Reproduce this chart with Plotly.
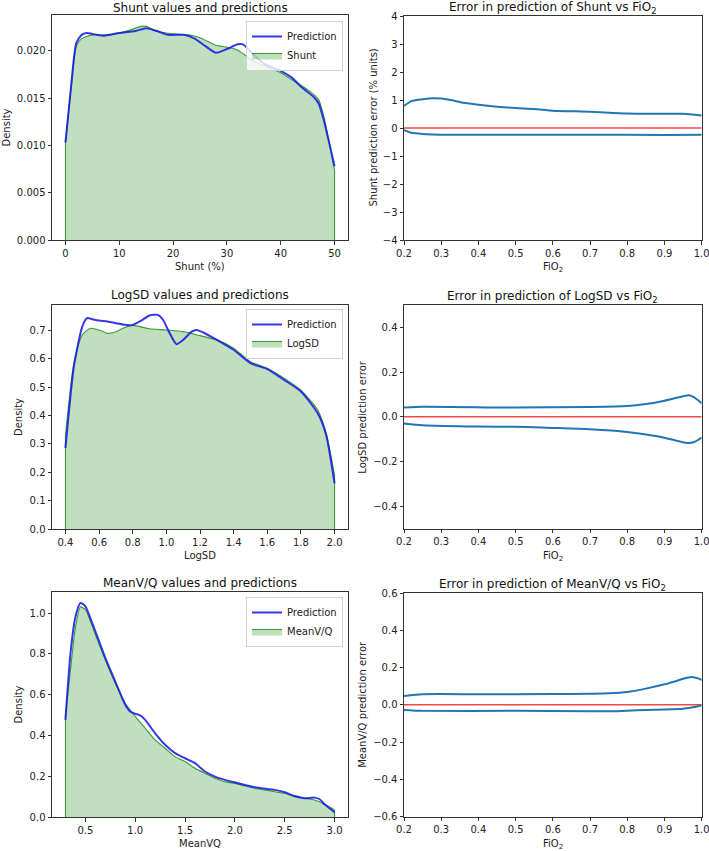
import plotly.graph_objects as go

# ---------------- data ----------------
shunt_x = [0, 1, 2, 3, 5, 8, 10, 12, 14, 15, 17, 20, 23, 25, 28, 30, 32, 35, 38, 40, 43, 45, 47, 48, 49, 50]
shunt_true = [0.0103, 0.0158, 0.0205, 0.0213, 0.0217, 0.0217, 0.0219, 0.0222, 0.0226, 0.0226, 0.0221, 0.0218,
              0.0217, 0.0214, 0.0206, 0.0204, 0.0201, 0.0189, 0.0182, 0.0177, 0.0166, 0.0159, 0.0149, 0.0131,
              0.0103, 0.0074]
shunt_pred_x = [0, 1, 2, 3, 4, 5, 7, 10, 13, 15, 17, 19, 22, 24, 26, 28, 30, 32, 33, 35, 37, 40, 42, 44, 46, 47,
                48, 49, 50]
shunt_pred = [0.0103, 0.0160, 0.0208, 0.0217, 0.0219, 0.0218, 0.0216, 0.0219, 0.0221, 0.0224, 0.0221, 0.0217,
              0.0217, 0.0213, 0.0205, 0.0198, 0.0202, 0.0207, 0.0207, 0.0196, 0.0186, 0.0179, 0.0172, 0.0161,
              0.0152, 0.0145, 0.0127, 0.0103, 0.0078]

shunt_err_up_x = [0.2, 0.22, 0.25, 0.28, 0.3, 0.33, 0.36, 0.4, 0.45, 0.5, 0.55, 0.6, 0.7, 0.8, 0.9, 0.95, 1.0]
shunt_err_up = [0.79, 0.96, 1.03, 1.06, 1.05, 0.99, 0.9, 0.83, 0.76, 0.71, 0.68, 0.62, 0.58, 0.52, 0.51, 0.51, 0.45]
shunt_err_lo_x = [0.2, 0.22, 0.25, 0.3, 0.5, 0.7, 0.9, 1.0]
shunt_err_lo = [-0.08, -0.17, -0.21, -0.24, -0.24, -0.24, -0.25, -0.24]

logsd_x = [0.4, 0.45, 0.5, 0.55, 0.6, 0.65, 0.7, 0.75, 0.8, 0.9, 1.0, 1.1, 1.2, 1.3, 1.4, 1.5, 1.6, 1.7, 1.8,
           1.9, 1.95, 2.0]
logsd_true = [0.33, 0.585, 0.685, 0.708, 0.702, 0.69, 0.696, 0.71, 0.718, 0.706, 0.702, 0.696, 0.682, 0.667,
              0.638, 0.59, 0.567, 0.532, 0.49, 0.42, 0.338, 0.19]
logsd_pred_x = [0.4, 0.45, 0.5, 0.53, 0.56, 0.6, 0.65, 0.7, 0.75, 0.8, 0.85, 0.9, 0.95, 0.98, 1.02, 1.06, 1.1,
                1.15, 1.18, 1.22, 1.3, 1.4, 1.5, 1.6, 1.7, 1.8, 1.9, 1.95, 2.0]
logsd_pred = [0.285, 0.573, 0.714, 0.744, 0.74, 0.735, 0.732, 0.726, 0.72, 0.72, 0.735, 0.753, 0.755, 0.738, 0.69,
              0.652, 0.667, 0.696, 0.702, 0.693, 0.667, 0.632, 0.585, 0.564, 0.526, 0.485, 0.408, 0.332, 0.161]

logsd_err_up_x = [0.2, 0.25, 0.5, 0.7, 0.8, 0.85, 0.9, 0.95, 0.965, 0.98, 1.0]
logsd_err_up = [0.041, 0.045, 0.041, 0.044, 0.048, 0.057, 0.072, 0.092, 0.096, 0.087, 0.06]
logsd_err_lo_x = [0.2, 0.25, 0.4, 0.5, 0.6, 0.7, 0.8, 0.88, 0.92, 0.96, 0.98, 1.0]
logsd_err_lo = [-0.03, -0.038, -0.044, -0.045, -0.05, -0.056, -0.068, -0.087, -0.102, -0.117, -0.113, -0.093]

mvq_x = [0.3, 0.35, 0.4, 0.45, 0.5, 0.55, 0.6, 0.7, 0.8, 0.9, 1.0, 1.1, 1.2, 1.3, 1.4, 1.5, 1.6, 1.7, 1.8, 1.9,
         2.0, 2.2, 2.4, 2.5, 2.6, 2.7, 2.8, 2.9, 3.0]
mvq_true = [0.5, 0.72, 0.93, 1.03, 1.016, 0.96, 0.894, 0.77, 0.656, 0.558, 0.493, 0.435, 0.378, 0.337, 0.296,
            0.272, 0.239, 0.214, 0.19, 0.173, 0.165, 0.141, 0.124, 0.116, 0.1, 0.092, 0.083, 0.062, 0.034]
mvq_pred_x = [0.3, 0.35, 0.4, 0.45, 0.5, 0.55, 0.6, 0.7, 0.8, 0.9, 0.95, 1.0, 1.05, 1.1, 1.2, 1.3, 1.4, 1.5, 1.6,
              1.7, 1.8, 1.9, 2.0, 2.2, 2.4, 2.5, 2.6, 2.7, 2.8, 2.85, 2.9, 3.0]
mvq_pred = [0.476, 0.80, 0.98, 1.049, 1.033, 0.975, 0.91, 0.78, 0.664, 0.55, 0.517, 0.506, 0.498, 0.476, 0.41,
            0.354, 0.313, 0.288, 0.264, 0.223, 0.198, 0.182, 0.17, 0.146, 0.133, 0.121, 0.103, 0.092, 0.095,
            0.087, 0.062, 0.023]

mvq_err_up_x = [0.2, 0.25, 0.4, 0.6, 0.7, 0.75, 0.8, 0.85, 0.9, 0.93, 0.96, 0.975, 0.99, 1.0]
mvq_err_up = [0.048, 0.057, 0.057, 0.058, 0.06, 0.062, 0.069, 0.087, 0.11, 0.127, 0.145, 0.15, 0.142, 0.133]
mvq_err_lo_x = [0.2, 0.25, 0.5, 0.7, 0.75, 0.8, 0.85, 0.9, 0.95, 0.98, 1.0]
mvq_err_lo = [-0.027, -0.032, -0.032, -0.034, -0.035, -0.032, -0.027, -0.025, -0.021, -0.012, -0.002]

zero_x = [0.2, 1.0]
zero_y = [0, 0]

fio_ticks = [0.2, 0.3, 0.4, 0.5, 0.6, 0.7, 0.8, 0.9, 1.0]
fio_labels = ["0.2", "0.3", "0.4", "0.5", "0.6", "0.7", "0.8", "0.9", "1.0"]

titles_left = ["Shunt values and predictions", "LogSD values and predictions", "MeanV/Q values and predictions"]
titles_right = ["Error in prediction of Shunt vs FiO<sub>2</sub>", "Error in prediction of LogSD vs FiO<sub>2</sub>",
                "Error in prediction of MeanV/Q vs FiO<sub>2</sub>"]
xlabels_left = ["Shunt (%)", "LogSD", "MeanVQ"]
ylabels_right = ["Shunt prediction error (% units)", "LogSD prediction error", "MeanV/Q prediction error"]
legend_names = ["Shunt", "LogSD", "MeanV/Q"]

# ---------------- style / layout ----------------
W, H = 709, 851
FONT = "DejaVu Sans"
GREEN_FILL = "rgba(0,128,0,0.25)"
GREEN_LINE = "rgba(0,128,0,0.75)"
BLUE = "rgba(20,20,230,0.85)"
TAB_BLUE = "#1f77b4"
RED = "rgba(240,40,40,0.85)"

def px_x(p):
    return p / W

def px_y(p):
    return 1 - p / H

# axes boxes in pixels: (left, right, top, bottom)
boxes_left = [(52, 348, 15, 240), (52, 348, 305, 529), (52, 348, 592, 817)]
boxes_right = [(404, 701.7, 16, 240), (404, 701.7, 305, 528.5), (404, 701.7, 593, 816.7)]

fig = go.Figure()

def axis_common():
    return dict(showline=True, mirror=True, linecolor="#333", linewidth=1, ticks="outside", ticklen=3.5,
                tickwidth=1, tickcolor="#333", showgrid=False, zeroline=False, ticklabeloverflow="allow",
                automargin=False, tickfont=dict(family=FONT, size=10, color="#222"))

layout = dict(width=W, height=H, margin=dict(l=0, r=0, t=0, b=0, autoexpand=False), plot_bgcolor="white",
              paper_bgcolor="white", font=dict(family=FONT, size=10, color="#222"))

kde_sets = [
    (shunt_x, shunt_true, shunt_pred_x, shunt_pred, [-2.5, 52.5], [0, 0.0238],
     dict(tickvals=[0, 10, 20, 30, 40, 50]), dict(tickvals=[0, 0.005, 0.01, 0.015, 0.02], tickformat=".3f")),
    (logsd_x, logsd_true, logsd_pred_x, logsd_pred, [0.32, 2.08], [0, 0.79],
     dict(tickvals=[0.4, 0.6, 0.8, 1.0, 1.2, 1.4, 1.6, 1.8, 2.0], tickformat=".1f"),
     dict(tickvals=[0, 0.1, 0.2, 0.3, 0.4, 0.5, 0.6, 0.7], tickformat=".1f")),
    (mvq_x, mvq_true, mvq_pred_x, mvq_pred, [0.165, 3.135], [0, 1.103],
     dict(tickvals=[0.5, 1.0, 1.5, 2.0, 2.5, 3.0], tickformat=".1f"),
     dict(tickvals=[0, 0.2, 0.4, 0.6, 0.8, 1.0], tickformat=".1f")),
]

err_sets = [
    (shunt_err_up_x, shunt_err_up, shunt_err_lo_x, shunt_err_lo, [-4, 4],
     [-4, -3, -2, -1, 0, 1, 2, 3, 4], ["\u22124", "\u22123", "\u22122", "\u22121", "0", "1", "2", "3", "4"]),
    (logsd_err_up_x, logsd_err_up, logsd_err_lo_x, logsd_err_lo, [-0.5, 0.5],
     [-0.4, -0.2, 0, 0.2, 0.4], ["\u22120.4", "\u22120.2", "0.0", "0.2", "0.4"]),
    (mvq_err_up_x, mvq_err_up, mvq_err_lo_x, mvq_err_lo, [-0.6, 0.6],
     [-0.6, -0.4, -0.2, 0, 0.2, 0.4, 0.6], ["\u22120.6", "\u22120.4", "\u22120.2", "0.0", "0.2", "0.4", "0.6"]),
]

annotations = []

legend_tops = [21, 309, 597]
density_label_x = [6, 18, 18]
right_label_x = [372.5, 363, 363]
title_centers_left = [7.5, 295, 583]
title_centers_right = [8, 297, 585]

for i in range(3):
    # ---------- left KDE panel ----------
    ax = 2 * i + 1
    xa = "x" if ax == 1 else f"x{ax}"
    ya = "y" if ax == 1 else f"y{ax}"
    lg = "legend" if i == 0 else f"legend{i + 1}"
    tx, ty, px_, py_, xr, yr, xt, yt = kde_sets[i]
    fig.add_trace(go.Scatter(x=tx, y=ty, mode="lines", fill="tozeroy", fillcolor=GREEN_FILL,
                             line=dict(color=GREEN_LINE, width=1.1, shape="spline", smoothing=0.6),
                             name=legend_names[i], legend=lg, legendrank=2, xaxis=xa, yaxis=ya))
    fig.add_trace(go.Scatter(x=[tx[0], tx[0], None, tx[-1], tx[-1]], y=[0, ty[0], None, 0, ty[-1]],
                             mode="lines", line=dict(color=GREEN_LINE, width=1.1), showlegend=False,
                             xaxis=xa, yaxis=ya))
    fig.add_trace(go.Scatter(x=px_, y=py_, mode="lines",
                             line=dict(color=BLUE, width=2, shape="spline", smoothing=0.6),
                             name="Prediction", legend=lg, legendrank=1, xaxis=xa, yaxis=ya))
    l, r, t, b = boxes_left[i]
    xd = axis_common(); xd.update(domain=[px_x(l), px_x(r)], range=xr, anchor=ya); xd.update(xt)
    yd = axis_common(); yd.update(domain=[px_y(b), px_y(t)], range=yr, anchor=xa); yd.update(yt)
    layout["xaxis" if ax == 1 else f"xaxis{ax}"] = xd
    layout["yaxis" if ax == 1 else f"yaxis{ax}"] = yd
    layout[lg] = dict(x=px_x(343), xanchor="right", y=px_y(legend_tops[i]), yanchor="top",
                      bgcolor="rgba(255,255,255,0.8)", bordercolor="#d0d0d0", borderwidth=1,
                      font=dict(family=FONT, size=10, color="#222"), tracegroupgap=0,
                      itemwidth=30)
    annotations.append(dict(text=titles_left[i], x=px_x((l + r) / 2), y=px_y(title_centers_left[i]),
                            xref="paper", yref="paper", xanchor="center", yanchor="middle", showarrow=False,
                            font=dict(family=FONT, size=12, color="#111")))
    annotations.append(dict(text=xlabels_left[i], x=px_x((l + r) / 2), y=px_y(b + 19), xref="paper",
                            yref="paper", xanchor="center", yanchor="top", showarrow=False,
                            font=dict(family=FONT, size=10, color="#222")))
    annotations.append(dict(text="Density", x=px_x(density_label_x[i]), y=px_y((t + b) / 2), xref="paper",
                            yref="paper", xanchor="center", yanchor="middle", textangle=-90, showarrow=False,
                            font=dict(family=FONT, size=10, color="#222")))

    # ---------- right error panel ----------
    ax = 2 * i + 2
    xa, ya = f"x{ax}", f"y{ax}"
    ux, uy, lx, ly, yr, yv, ytt = err_sets[i]
    fig.add_trace(go.Scatter(x=zero_x, y=zero_y, mode="lines", line=dict(color=RED, width=1.5),
                             showlegend=False, xaxis=xa, yaxis=ya))
    fig.add_trace(go.Scatter(x=ux, y=uy, mode="lines", line=dict(color=TAB_BLUE, width=2, shape="spline",
                                                                  smoothing=0.6),
                             showlegend=False, xaxis=xa, yaxis=ya))
    fig.add_trace(go.Scatter(x=lx, y=ly, mode="lines", line=dict(color=TAB_BLUE, width=2, shape="spline",
                                                                  smoothing=0.6),
                             showlegend=False, xaxis=xa, yaxis=ya))
    l, r, t, b = boxes_right[i]
    xd = axis_common(); xd.update(domain=[px_x(l), px_x(r)], range=[0.2, 1.0 + 1e-6], anchor=ya,
                                  tickvals=fio_ticks, ticktext=fio_labels)
    yd = axis_common(); yd.update(domain=[px_y(b), px_y(t)], range=yr, anchor=xa, tickvals=yv, ticktext=ytt)
    layout[f"xaxis{ax}"] = xd
    layout[f"yaxis{ax}"] = yd
    annotations.append(dict(text=titles_right[i], x=px_x((l + r) / 2), y=px_y(title_centers_right[i]),
                            xref="paper", yref="paper", xanchor="center", yanchor="middle", showarrow=False,
                            font=dict(family=FONT, size=12, color="#111")))
    annotations.append(dict(text="FiO<sub>2</sub>", x=px_x((l + r) / 2), y=px_y(b + 19), xref="paper",
                            yref="paper", xanchor="center", yanchor="top", showarrow=False,
                            font=dict(family=FONT, size=10, color="#222")))
    annotations.append(dict(text=ylabels_right[i], x=px_x(right_label_x[i]), y=px_y((t + b) / 2), xref="paper",
                            yref="paper", xanchor="center", yanchor="middle", textangle=-90, showarrow=False,
                            font=dict(family=FONT, size=10, color="#222")))

layout["annotations"] = annotations
fig.update_layout(**layout)
fig.write_html("out.html")
